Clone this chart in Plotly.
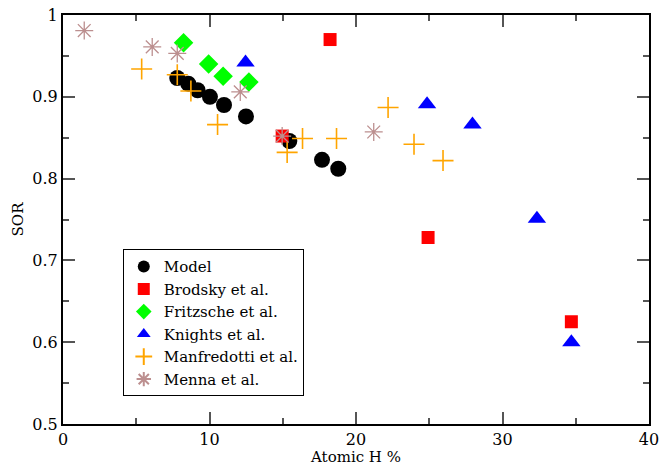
import plotly.graph_objects as go

model_x = [7.8, 8.55, 9.19, 10.03, 10.99, 12.49, 15.45, 17.68, 18.79]
model_y = [0.923, 0.916, 0.908, 0.900, 0.890, 0.876, 0.846, 0.823, 0.812]

brodsky_x = [18.23, 14.96, 24.92, 34.70]
brodsky_y = [0.970, 0.852, 0.728, 0.625]

fritzsche_x = [8.23, 9.94, 10.93, 12.69]
fritzsche_y = [0.966, 0.940, 0.925, 0.918]

knights_x = [12.46, 24.85, 27.95, 32.35, 34.70]
knights_y = [0.942, 0.891, 0.866, 0.751, 0.600]

manfredotti_x = [5.37, 7.80, 8.73, 10.55, 15.30, 16.35, 18.67, 22.19, 23.96, 25.94]
manfredotti_y = [0.934, 0.927, 0.907, 0.866, 0.832, 0.849, 0.849, 0.887, 0.842, 0.822]

menna_x = [1.45, 6.09, 7.80, 12.10, 14.96, 21.21]
menna_y = [0.981, 0.961, 0.953, 0.906, 0.852, 0.857]

x_ticks = [0, 10, 20, 30, 40]
y_ticks = [0.5, 0.6, 0.7, 0.8, 0.9, 1.0]
y_tick_labels = ["0.5", "0.6", "0.7", "0.8", "0.9", "1"]

fig = go.Figure()
fig.add_trace(go.Scatter(x=model_x, y=model_y, mode="markers", name="Model",
                         marker=dict(symbol="circle", size=16, color="black")))
fig.add_trace(go.Scatter(x=brodsky_x, y=brodsky_y, mode="markers", name="Brodsky et al.",
                         marker=dict(symbol="square", size=13, color="#FF0000")))
fig.add_trace(go.Scatter(x=fritzsche_x, y=fritzsche_y, mode="markers", name="Fritzsche et al.",
                         marker=dict(symbol="diamond", size=15, color="#00FF00")))
fig.add_trace(go.Scatter(x=knights_x, y=knights_y, mode="markers", name="Knights et al.",
                         marker=dict(symbol="triangle-up", size=16, color="#0000FF")))
fig.add_trace(go.Scatter(x=manfredotti_x, y=manfredotti_y, mode="markers", name="Manfredotti et al.",
                         marker=dict(symbol="cross-thin-open", size=15, color="#FFA500",
                                     line=dict(width=1.6, color="#FFA500"))))
fig.add_trace(go.Scatter(x=menna_x, y=menna_y, mode="markers", name="Menna et al.",
                         marker=dict(symbol="asterisk-open", size=15, color="#BC8F8F",
                                     line=dict(width=1.3, color="#BC8F8F"))))

serif = "DejaVu Serif"
axis_common = dict(showline=True, linecolor="black", linewidth=2, mirror="ticks",
                   ticks="inside", ticklen=12, tickwidth=1.5, tickcolor="#555555",
                   showgrid=False, zeroline=False, automargin=False,
                   tickfont=dict(family=serif, size=16, color="black"))

fig.update_layout(
    width=661, height=466,
    margin=dict(l=63, r=12, t=15, b=42, autoexpand=False),
    paper_bgcolor="white", plot_bgcolor="white",
    font=dict(family=serif, color="black"),
    xaxis=dict(range=[0, 40], tickvals=x_ticks,
               title=dict(text="Atomic H %", font=dict(family=serif, size=15), standoff=2),
               minor=dict(dtick=5, ticks="inside", ticklen=6, tickcolor="#555555", tickwidth=1.5),
               **axis_common),
    yaxis=dict(range=[0.5, 1.0], tickvals=y_ticks, ticktext=y_tick_labels,
               title=dict(text="SOR", font=dict(family=serif, size=15), standoff=5),
               minor=dict(dtick=0.05, ticks="inside", ticklen=6, tickcolor="#555555", tickwidth=1.5),
               **axis_common),
    legend=dict(x=0.102, y=0.427, xanchor="left", yanchor="top",
                bordercolor="black", borderwidth=1, bgcolor="white",
                font=dict(family=serif, size=15), tracegroupgap=0,
                itemsizing="constant"),
    showlegend=True,
)

fig.write_html("out.html")
